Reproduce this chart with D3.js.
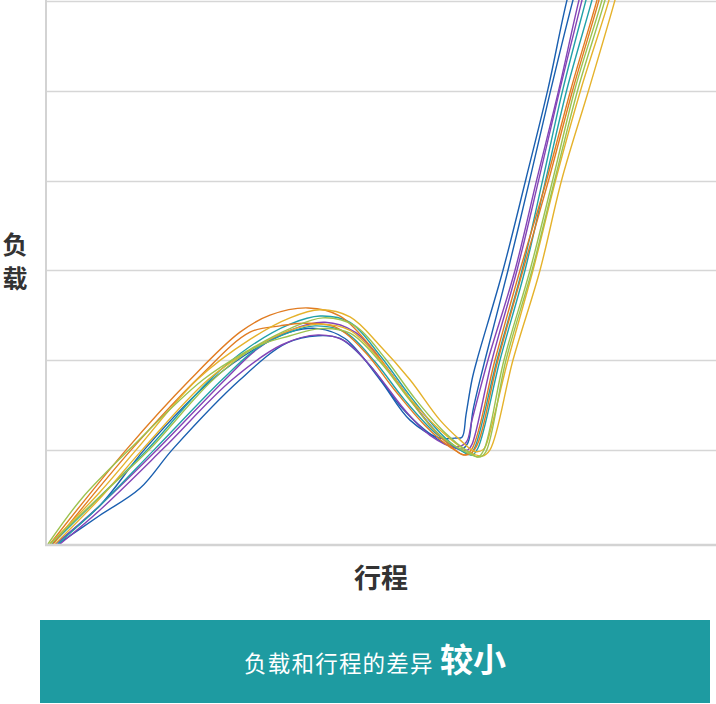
<!DOCTYPE html>
<html>
<head>
  <meta charset="utf-8">
  <title>负载 行程</title>
  <style>
    body { margin: 0; background: #fff; }
  </style>
</head>
<body>
<script src="https://cdnjs.cloudflare.com/ajax/libs/d3/7.8.5/d3.min.js"></script>
<script>
// chart size
var w = 716, h = 704;
var margin = {left: 47, top: 1, right: 0, bottom: 160};

// stroke (x) and load (y) readings per curve
var blueA = [[1.6,-0.5],[10.6,3.8],[19.6,10.1],[33,17.8],[43,21.7],[49,23.2],[54.2,23.5],[59.6,22.4],[66.6,17.8],[72.6,13.3],[78.6,11.3],[81.6,11.3],[83,11.4],[83.8,13.9],[85,17.8],[86,20],[91.2,30],[95.8,40.2],[100.2,50.2],[104,60.1],[107,66]];
var blueB = [[2.2,-0.5],[10.6,2.7],[18.6,5.7],[25.2,10.1],[38.6,17.8],[48,21.9],[54.2,22.7],[58.6,22.4],[64.6,19.4],[70.6,14.9],[75.6,12.2],[80.6,10.4],[83,10.1],[84.2,10.8],[85.2,14.4],[87.6,20],[92.2,30],[96.6,40.2],[100.8,50.2],[105.2,60.1],[108.2,66]];
var purpleA = [[2.6,-0.5],[10.6,3.3],[23.2,10.1],[37,17.8],[47,21.7],[54.2,22.8],[59.6,22.1],[65.6,18.7],[71.6,14.4],[76.6,11.6],[81.6,10.3],[83.8,10.8],[85,13.3],[88.2,20],[93.6,30],[98,40.2],[102.4,50.2],[106.4,60.1],[109.2,66]];
var purpleB = [[1.8,-0.5],[10.6,3.8],[22.2,10.1],[35.6,17.8],[42,21.2],[48.6,23.3],[55.6,24.2],[61.6,23.1],[67.6,19.4],[73.6,14.9],[78.6,11.6],[82.6,10],[84.2,10],[85,10.6],[89,20],[94,30],[98.4,40.2],[102.6,50.2],[107,60.1],[109.8,66]];
var tealA = [[1,-0.5],[10.6,4.8],[20.2,10.1],[32.6,17.8],[40.6,21.5],[48.6,24],[54.6,24.9],[60.6,24.2],[66.6,20.5],[72.6,16],[78.6,11.9],[82.6,10],[84.6,9.5],[85.6,10.3],[90,20],[95,30],[99.2,40.2],[103.2,50.2],[107.8,60.1],[110.6,66]];
var tealB = [[2.2,-0.5],[10.6,3.8],[21.6,10.1],[35,17.8],[42,21.3],[48.6,23.1],[53.6,23.8],[59.6,23.1],[65.6,19.8],[71.6,15.5],[77.6,11.9],[82.6,10],[85,9.4],[86.2,10.2],[90.6,20],[95.6,30],[99.8,40.2],[104,50.2],[109,60.1],[111.8,66]];
var orangeA = [[0.6,-0.5],[16,10.1],[28.6,17.8],[38.6,23.1],[44.6,25],[52.2,25.8],[58.6,24.9],[64.6,21.6],[70.6,17.1],[76.6,12.7],[81.6,10],[83.4,9.4],[85,10.1],[89.6,20],[94.6,30],[100,40.2],[104.8,50.2],[110,60.1],[112.8,66]];
var orangeB = [[1.2,-0.5],[17,10.1],[30.6,18.2],[40.6,23.1],[46.6,23.8],[51.2,24.1],[57.6,23.7],[63.6,20.9],[69.6,16.6],[75.6,12.7],[80.6,10.3],[83.8,9.4],[85.6,10.1],[90.2,20],[95.2,30],[100.4,40.2],[105.2,50.2],[110.4,60.1],[113.2,66]];
var yellowA = [[0.6,-0.5],[10.6,5.3],[18,10.1],[30,17.8],[40.6,22.3],[48.6,24.7],[54.6,25.6],[60.6,24.8],[66.6,21.6],[72.6,17.8],[78.6,13.3],[82.6,11.1],[85.6,9.8],[87.2,10],[87.8,10.5],[92.2,20],[97.2,30],[101.8,40.2],[106.8,50.2],[112.4,60.1],[115.2,66]];
var yellowB = [[1.6,-0.5],[10.6,4.6],[19.2,10.1],[32.2,17.8],[40.6,21.1],[48.6,23.3],[54.2,24],[60.6,23.3],[66.6,20],[72.6,15.7],[78.6,12.2],[83.6,10],[87,9.3],[88.6,10],[93.2,20],[98.6,30],[103,40.2],[108.4,50.2],[113.6,60.1],[116.4,66]];
var greenA = [[0.2,-0.5],[7,4.6],[16.6,10.1],[31.2,17.8],[40.6,21.2],[48.6,23.5],[55.2,24.7],[61.6,23.8],[67.6,20.2],[73.6,15.7],[79.6,11.9],[84.2,9.8],[86.2,9.2],[87.4,10],[91.4,20],[96.6,30],[101.2,40.2],[105.6,50.2],[111,60.1],[113.8,66]];
var greenB = [[0.6,-0.5],[10.6,4.8],[20.6,10.1],[33.2,17.8],[42,21.5],[48.6,22.7],[54.6,23.5],[60.6,23],[66.6,19.8],[72.6,15.5],[78.6,11.6],[83.6,9.8],[86.6,9.2],[87.8,9.8],[91.8,20],[97,30],[101.6,40.2],[106.2,50.2],[111.6,60.1],[114.4,66]];

var curves = [blueA, blueB, purpleA, purpleB, tealA, tealB, orangeA, orangeB, yellowA, yellowB, greenA, greenB];
var colors = ["#1a5fb0", "#1a5fb0", "#8444b6", "#8444b6", "#21a1a8", "#21a1a8",
              "#e17c22", "#e17c22", "#e5b22b", "#e5b22b", "#9dc24f", "#9dc24f"];
var loadTicks = [10, 20, 30, 40, 50, 60];

var xLabel = "行程", yLabel = "负载";
var bannerText = "负载和行程的差异", bannerStrong = "较小";

var svg = d3.select("body").append("svg")
  .attr("width", w)
  .attr("height", h);

var x = d3.scaleLinear().domain([0, 133.8]).range([margin.left, w - margin.right]);
var y = d3.scaleLinear().domain([-0.5, 60]).range([544, margin.top]);

// grid lines
svg.append("g")
  .selectAll("line")
  .data(loadTicks)
  .enter()
  .append("line")
  .attr("x1", x(0))
  .attr("x2", w)
  .attr("y1", function(d) { return Math.round(y(d)) + 0.5; })
  .attr("y2", function(d) { return Math.round(y(d)) + 0.5; })
  .attr("stroke", "#d6d6d6")
  .attr("stroke-width", 1.3);

// clip the curves to the plot
svg.append("clipPath").attr("id", "plot")
  .append("rect")
  .attr("x", x(0)).attr("y", 0)
  .attr("width", w - x(0)).attr("height", y(-0.5));

var line = d3.line()
  .x(function(d) { return x(d[0]); })
  .y(function(d) { return y(d[1]); })
  .curve(d3.curveCatmullRom.alpha(0.5));

svg.append("g")
  .attr("clip-path", "url(#plot)")
  .selectAll("path")
  .data(curves)
  .enter()
  .append("path")
  .attr("d", line)
  .attr("fill", "none")
  .attr("stroke", function(d, i) { return colors[i]; })
  .attr("stroke-width", 1.4);

// axes lines (no ticks)
svg.append("line")
  .attr("x1", x(0) - 1).attr("x2", x(0) - 1)
  .attr("y1", 0).attr("y2", y(-0.5) + 2)
  .attr("stroke", "#d3d3d3").attr("stroke-width", 2);
svg.append("line")
  .attr("x1", x(0) - 2).attr("x2", w)
  .attr("y1", y(-0.5) + 1).attr("y2", y(-0.5) + 1)
  .attr("stroke", "#d3d3d3").attr("stroke-width", 2.5);

// axis titles
var yl = svg.append("text")
  .attr("text-anchor", "middle")
  .attr("font-family", "'Noto Sans CJK SC', sans-serif")
  .attr("font-weight", "bold")
  .attr("font-size", 25)
  .attr("fill", "#333");
yl.selectAll("tspan")
  .data(yLabel.split(""))
  .enter()
  .append("tspan")
  .attr("x", 15)
  .attr("y", function(d, i) { return 254 + i * 34; })
  .text(function(d) { return d; });

svg.append("text")
  .attr("x", 381)
  .attr("y", 588)
  .attr("text-anchor", "middle")
  .attr("font-family", "'Noto Sans CJK SC', sans-serif")
  .attr("font-weight", "bold")
  .attr("font-size", 27)
  .attr("fill", "#333")
  .text(xLabel);

// banner
svg.append("rect")
  .attr("x", 40).attr("y", 620)
  .attr("width", 670).attr("height", 83)
  .attr("fill", "#1e9ba1");

var bt = svg.append("text")
  .attr("x", 375)
  .attr("y", 672)
  .attr("text-anchor", "middle")
  .attr("font-family", "'Noto Sans CJK SC', sans-serif")
  .attr("fill", "#fff");
bt.append("tspan")
  .attr("font-size", 22.5)
  .attr("letter-spacing", 1.2)
  .text(bannerText + " ");
bt.append("tspan")
  .attr("font-size", 33)
  .attr("font-weight", "bold")
  .text(bannerStrong);
</script>
</body>
</html>
